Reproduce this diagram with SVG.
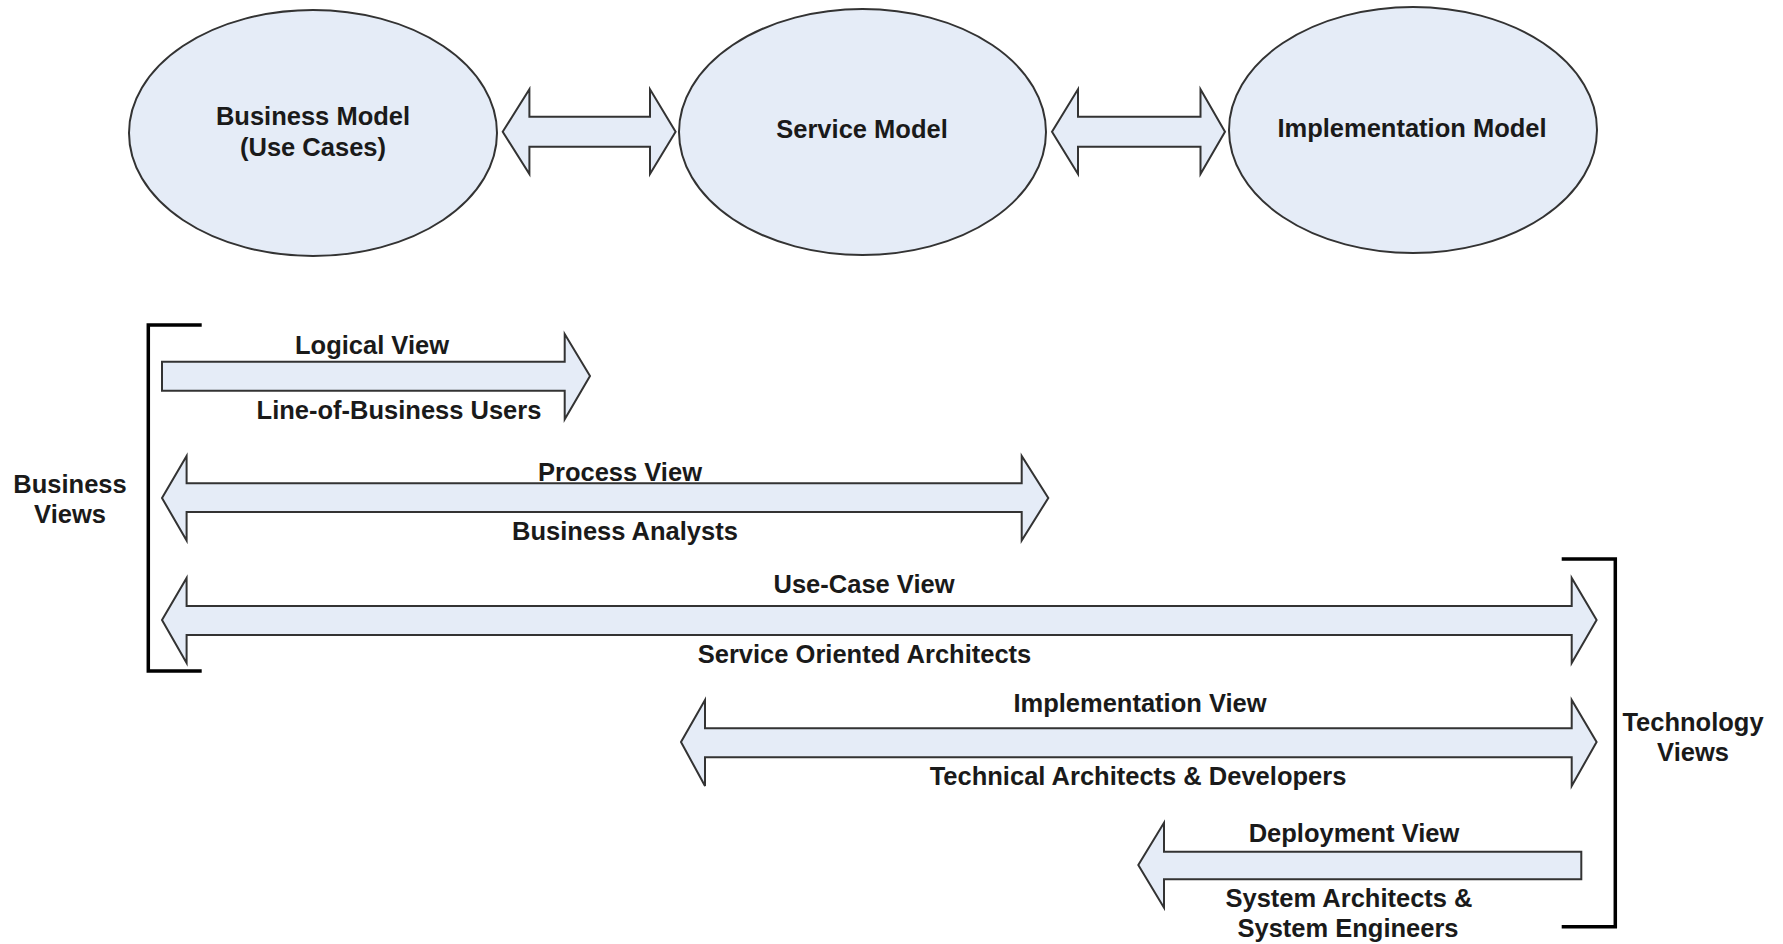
<svg xmlns="http://www.w3.org/2000/svg" width="1783" height="944" viewBox="0 0 1783 944">
<style>
.n{fill:#E5ECF7;stroke:#333;stroke-width:2}
.a{fill:#E5ECF7;stroke:#333;stroke-width:2;stroke-linejoin:miter}
.b{fill:none;stroke:#000;stroke-width:3.5}
text{font-family:"Liberation Sans",Arial,sans-serif;font-weight:bold;font-size:25.5px;fill:#1a1a1a;text-anchor:middle}
</style>
<rect width="1783" height="944" fill="#fff"/>
<g id="business-model">
<ellipse class="n" cx="313" cy="133" rx="184" ry="123"/>
<text x="313" y="125">Business Model</text>
<text x="313" y="156">(Use Cases)</text>
</g>
<g id="service-model">
<ellipse class="n" cx="862.5" cy="132" rx="183.5" ry="123"/>
<text x="862" y="138">Service Model</text>
</g>
<g id="implementation-model">
<ellipse class="n" cx="1413" cy="130" rx="184" ry="123"/>
<text x="1412" y="137">Implementation Model</text>
</g>
<g id="connectors">
<path class="a" d="M502.7,131.7 L529.4,89.3 L529.4,116.7 L650,116.7 L650,89.3 L675.6,131.7 L650,174 L650,146.7 L529.4,146.7 L529.4,174 Z"/>
<path class="a" d="M1052,131.7 L1078,89.3 L1078,116.7 L1200.5,116.7 L1200.5,89.3 L1225,131.7 L1200.5,174 L1200.5,146.7 L1078,146.7 L1078,174 Z"/>
</g>
<g id="business-views">
<path class="b" d="M201.7,325 L148.3,325 L148.3,671 L201.7,671"/>
<text x="70" y="492.7">Business</text>
<text x="70" y="523.3">Views</text>
</g>
<g id="technology-views">
<path class="b" d="M1561.7,559 L1615.3,559 L1615.3,926.7 L1561.7,926.7"/>
<text x="1693" y="730.7">Technology</text>
<text x="1693" y="760.7">Views</text>
</g>
<g id="logical-view">
<path class="a" d="M162,361.7 L564.7,361.7 L564.7,334 L590,376 L564.7,419.3 L564.7,390.7 L162,390.7 Z"/>
<text x="372" y="354">Logical View</text>
<text x="399" y="419">Line-of-Business Users</text>
</g>
<g id="process-view">
<path class="a" d="M162,498 L186.6,456 L186.6,483.3 L1021.7,483.3 L1021.7,456 L1048.3,498 L1021.7,540.5 L1021.7,512 L186.6,512 L186.6,540.5 Z"/>
<text x="620" y="481">Process View</text>
<text x="625" y="540">Business Analysts</text>
</g>
<g id="use-case-view">
<path class="a" d="M162,620 L186.6,578 L186.6,606 L1571.7,606 L1571.7,578 L1596.6,620 L1571.7,663 L1571.7,635 L186.6,635 L186.6,663 Z"/>
<text x="864" y="592.7">Use-Case View</text>
<text x="864.5" y="662.7">Service Oriented Architects</text>
</g>
<g id="implementation-view">
<path class="a" d="M681,742 L705,700 L705,728.3 L1571.7,728.3 L1571.7,700 L1596.6,742 L1571.7,786 L1571.7,757.3 L705,757.3 L705,786 Z"/>
<text x="1140" y="712">Implementation View</text>
<text x="1138" y="785">Technical Architects &amp; Developers</text>
</g>
<g id="deployment-view">
<path class="a" d="M1138.3,865 L1164,822.7 L1164,851.7 L1581.3,851.7 L1581.3,879.3 L1164,879.3 L1164,907.7 Z"/>
<text x="1354" y="841.7">Deployment View</text>
<text x="1349" y="906.7">System Architects &amp;</text>
<text x="1348" y="936.7">System Engineers</text>
</g>
</svg>
